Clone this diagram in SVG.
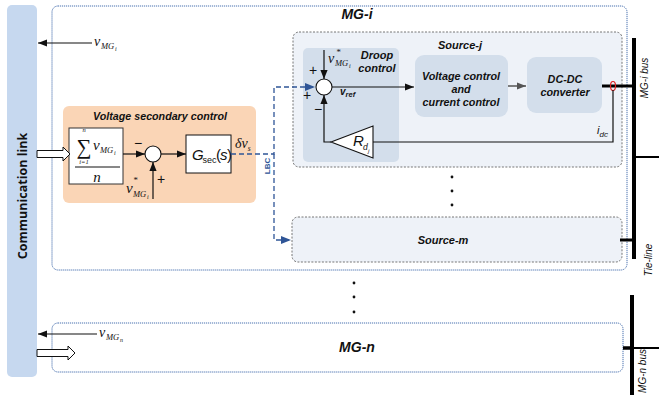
<svg xmlns="http://www.w3.org/2000/svg" width="659" height="401" viewBox="0 0 659 401">
<defs>
<style>
.lbl{font-family:"Liberation Sans",Arial,sans-serif;font-weight:bold;font-style:italic;fill:#111}
.math{font-family:"Liberation Serif","Times New Roman",serif;font-style:italic;fill:#111}
.ln{stroke:#111;stroke-width:1.2;fill:none}
.mg{fill:#fff;stroke:#4a72b0;stroke-width:1;stroke-dasharray:1.2 0.8}
.src{fill:#eef2f8;stroke:#666;stroke-width:0.9;stroke-dasharray:2 1.5}
.blk{fill:#d3deeb;stroke:none}
.lbc{stroke:#2f5597;stroke-width:1.3;fill:none;stroke-dasharray:5 3}
.hollow{fill:#fff;stroke:#111;stroke-width:1}
.pm{font-family:"Liberation Sans",Arial,sans-serif;font-size:14px;fill:#111;text-anchor:middle}
</style>
<marker id="ah" viewBox="0 0 10 10" refX="10" refY="5" markerWidth="9" markerHeight="9" markerUnits="userSpaceOnUse" orient="auto"><path d="M0,1 L10,5 L0,9 Z" fill="#111"/></marker>
<marker id="ahg" viewBox="0 0 10 10" refX="10" refY="5" markerWidth="9" markerHeight="9" markerUnits="userSpaceOnUse" orient="auto"><path d="M0,1 L10,5 L0,9 Z" fill="#555"/></marker>
<marker id="ahb" viewBox="0 0 10 10" refX="10" refY="5" markerWidth="10" markerHeight="10" markerUnits="userSpaceOnUse" orient="auto"><path d="M0,1 L10,5 L0,9 Z" fill="#2f5597"/></marker>
</defs>

<g id="comm-link">
<rect x="7" y="5" width="30" height="372" rx="5" fill="#c6d8ef"/>
<text x="0" y="0" transform="translate(27,196) rotate(-90)" text-anchor="middle" font-family="'Open Sans','DejaVu Sans',sans-serif" font-weight="bold" font-size="12.5" fill="#111">Communication link</text>
</g>

<g id="mg-i">
<rect class="mg" x="52" y="6" width="575" height="264" rx="6"/>
<text class="lbl" x="357" y="19" font-size="14" text-anchor="middle">MG-i</text>
</g>

<g id="source-j">
<rect class="src" x="293" y="32" width="329" height="135" rx="6"/>
<text class="lbl" x="460" y="49" font-size="11" text-anchor="middle">Source-j</text>
</g>

<g id="droop">
<rect class="blk" x="303" y="48" width="96" height="114" rx="5"/>
<text class="lbl" x="377" y="59" font-size="11" text-anchor="middle">Droop</text>
<text class="lbl" x="377" y="72" font-size="11" text-anchor="middle">control</text>
<circle cx="324" cy="87" r="8" fill="#fff" stroke="#111" stroke-width="1.1"/>
<text class="math" x="328" y="63" font-size="14">v</text>
<text class="math" x="336" y="55" font-size="9">*</text>
<text class="math" x="335" y="66" font-size="8.5">MG</text>
<text class="math" x="349" y="68" font-size="6">i</text>
<text class="pm" x="313" y="75">+</text>
<text class="pm" x="307" y="100">+</text>
<text class="pm" x="318" y="114">−</text>
<polygon points="331,142 373,126 373,158" fill="#fff" stroke="#111" stroke-width="1.1"/>
<text x="353" y="146" font-family="'Liberation Sans',sans-serif" font-style="italic" font-size="15" fill="#111">R</text>
<text x="363" y="150" font-family="'Liberation Sans',sans-serif" font-style="italic" font-size="8.5" fill="#111">d</text>
<text x="368" y="153" font-family="'Liberation Sans',sans-serif" font-style="italic" font-size="6" fill="#111">j</text>
<text class="lbl" x="340" y="95" font-size="10">v<tspan font-size="7.5" dy="2">ref</tspan></text>
</g>

<g id="voltage-current-control">
<rect class="blk" x="415" y="55" width="93" height="62" rx="9"/>
<text class="lbl" x="461" y="80" font-size="10.8" text-anchor="middle">Voltage control</text>
<text class="lbl" x="461" y="93" font-size="10.8" text-anchor="middle">and</text>
<text class="lbl" x="461" y="106" font-size="10.8" text-anchor="middle">current control</text>
</g>

<g id="dc-dc">
<rect class="blk" x="527" y="57" width="75" height="56" rx="9"/>
<text class="lbl" x="565" y="83" font-size="10.8" text-anchor="middle">DC-DC</text>
<text class="lbl" x="565" y="96" font-size="10.8" text-anchor="middle">converter</text>
</g>

<g id="source-m">
<rect class="src" x="292" y="217" width="330" height="45" rx="6"/>
<text class="lbl" x="443" y="244" font-size="11" text-anchor="middle">Source-m</text>
</g>

<g id="secondary-control">
<rect x="63" y="106" width="193" height="97" rx="6" fill="#fad5b6"/>
<text class="lbl" x="160" y="120" font-size="10.7" text-anchor="middle">Voltage secondary control</text>
<rect x="69" y="128" width="54" height="56" fill="#fff" stroke="#333" stroke-width="1"/>
<text class="math" x="84" y="132" font-size="6.5" text-anchor="middle">n</text>
<text x="84" y="153.5" font-family="'Liberation Serif',serif" font-size="21" text-anchor="middle" fill="#111">∑</text>
<text class="math" x="84" y="164" font-size="6.5" text-anchor="middle">i=1</text>
<text class="math" x="93" y="150" font-size="15">v</text>
<text class="math" x="100" y="153" font-size="8.5">MG</text>
<text class="math" x="114" y="155" font-size="6">i</text>
<line x1="75" y1="167" x2="120" y2="167" stroke="#111" stroke-width="1"/>
<text class="math" x="97" y="182" font-size="15" text-anchor="middle">n</text>
<circle cx="153" cy="154" r="8" fill="#fff" stroke="#111" stroke-width="1.1"/>
<text class="pm" x="138" y="148">−</text>
<text class="pm" x="161" y="184">+</text>
<text class="math" x="126" y="193" font-size="15">v</text>
<text class="math" x="133" y="183" font-size="9">*</text>
<text class="math" x="133" y="197" font-size="8.5">MG</text>
<text class="math" x="147" y="199" font-size="6">i</text>
<rect x="186" y="135" width="45" height="38" fill="#fff" stroke="#111" stroke-width="1"/>
<text x="192" y="160" font-family="'Liberation Sans',sans-serif" font-style="italic" font-size="15" fill="#111">G</text>
<text x="202.5" y="163" font-family="'Liberation Sans',sans-serif" font-size="9" fill="#111">sec</text>
<text x="216" y="160" font-family="'Liberation Sans',sans-serif" font-size="15" fill="#111">(</text>
<text x="220" y="160" font-family="'Liberation Sans',sans-serif" font-style="italic" font-size="15" fill="#111">s</text>
<text x="227" y="160" font-family="'Liberation Sans',sans-serif" font-size="15" fill="#111">)</text>
<text class="math" x="235" y="148" font-size="14">δv<tspan font-size="7.5" dy="3">s</tspan></text>
</g>

<g id="mg-n">
<rect class="mg" x="52" y="323" width="571" height="49" rx="6"/>
<text class="lbl" x="357" y="352" font-size="14" text-anchor="middle">MG-n</text>
</g>

<g id="buses">
<line x1="634" y1="38" x2="634" y2="259" stroke="#000" stroke-width="4"/>
<line x1="634" y1="157" x2="659" y2="157" stroke="#000" stroke-width="2"/>
<line x1="620" y1="240" x2="634" y2="240" stroke="#000" stroke-width="3"/>
<line x1="632" y1="295" x2="632" y2="395" stroke="#000" stroke-width="4"/>
<line x1="623" y1="348" x2="634" y2="348" stroke="#000" stroke-width="3.5"/>
<line x1="634" y1="348" x2="659" y2="348" stroke="#000" stroke-width="2"/>
<text x="0" y="0" transform="translate(648,78) rotate(-90)" text-anchor="middle" font-family="'Liberation Sans',sans-serif" font-style="italic" font-size="10" fill="#111">MG-i bus</text>
<text x="0" y="0" transform="translate(652,260) rotate(-90)" text-anchor="middle" font-family="'Liberation Sans',sans-serif" font-style="italic" font-size="10" fill="#111">Tie-line</text>
<text x="0" y="0" transform="translate(646,371) rotate(-90)" text-anchor="middle" font-family="'Liberation Sans',sans-serif" font-style="italic" font-size="10" fill="#111">MG-n bus</text>
</g>

<g id="connectors">
<line class="ln" x1="92" y1="43" x2="38" y2="43" marker-end="url(#ah)"/>
<line class="ln" x1="97" y1="334" x2="38" y2="334" marker-end="url(#ah)"/>
<path class="hollow" d="M37,150.5 H63 V147 L70,154 L63,161 V157.5 H37 Z"/>
<path class="hollow" d="M37,349.5 H68 V346 L75,353 L68,360 V356.5 H37 Z"/>
<line class="ln" x1="123" y1="154" x2="145" y2="154" marker-end="url(#ah)"/>
<line class="ln" x1="161" y1="154" x2="186" y2="154" marker-end="url(#ah)"/>
<line class="ln" x1="153" y1="199" x2="153" y2="162" marker-end="url(#ah)"/>
<path class="lbc" d="M231,154 H274 V87 H315" marker-end="url(#ahb)"/>
<path class="lbc" d="M274,154 V240 H291" marker-end="url(#ahb)"/>
<text x="0" y="0" transform="translate(270,166) rotate(-90)" text-anchor="middle" font-family="'Liberation Sans',sans-serif" font-weight="bold" font-size="8" fill="#2f5597">LBC</text>
<line class="ln" x1="324" y1="50" x2="324" y2="79" marker-end="url(#ah)"/>
<line class="ln" x1="332" y1="87" x2="414" y2="87" marker-end="url(#ah)"/>
<line x1="508" y1="86" x2="526" y2="86" stroke="#555" stroke-width="1.5" marker-end="url(#ahg)"/>
<line x1="602" y1="86" x2="634" y2="86" stroke="#000" stroke-width="3"/>
<ellipse cx="613" cy="86" rx="2.5" ry="4.5" fill="none" stroke="#e02020" stroke-width="1.2"/>
<path class="ln" d="M613,90 V142 H373"/>
<path class="ln" d="M331,142 H324 V95" marker-end="url(#ah)"/>
<text x="597" y="134" font-family="'Liberation Sans',sans-serif" font-style="italic" font-size="11" fill="#111">i<tspan font-size="8" dy="3">dc</tspan></text>
<text class="math" x="94" y="46" font-size="14">v</text>
<text class="math" x="101" y="49" font-size="8.5">MG</text>
<text class="math" x="115" y="51" font-size="6">i</text>
<text class="math" x="99" y="337" font-size="14">v</text>
<text class="math" x="106" y="340" font-size="8.5">MG</text>
<text class="math" x="120" y="342" font-size="6">n</text>
<circle cx="452" cy="177" r="1.4" fill="#111"/>
<circle cx="452" cy="191" r="1.4" fill="#111"/>
<circle cx="452" cy="205" r="1.4" fill="#111"/>
<circle cx="354" cy="283" r="1.4" fill="#111"/>
<circle cx="354" cy="297" r="1.4" fill="#111"/>
<circle cx="354" cy="312" r="1.4" fill="#111"/>
</g>
</svg>
